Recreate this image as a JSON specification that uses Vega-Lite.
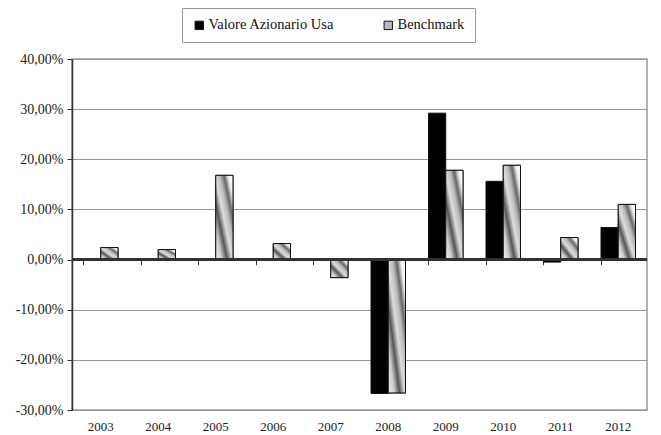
{
  "$schema": "https://vega.github.io/schema/vega-lite/v6.json",
  "width": 575,
  "height": 351,
  "autosize": {"type": "none"},
  "padding": {"left": 72, "top": 59, "right": 14, "bottom": 25},
  "background": "white",
  "config": {
    "locale": {"number": {"decimal": ",", "thousands": ".", "grouping": [3], "currency": ["", " €"], "minus": "-"}},
    "view": {"stroke": "#999", "strokeWidth": 1.5},
    "font": "Times New Roman, Liberation Serif, serif",
    "axis": {"labelFont": "Times New Roman, Liberation Serif, serif", "labelFontSize": 13, "labelColor": "#222"},
    "legend": {"labelFont": "Times New Roman, Liberation Serif, serif"}
  },
  "data": {
    "values": [
      {"year": "2003", "serie": "Benchmark", "value": 0.024},
      {"year": "2004", "serie": "Benchmark", "value": 0.020},
      {"year": "2005", "serie": "Benchmark", "value": 0.168},
      {"year": "2006", "serie": "Benchmark", "value": 0.032},
      {"year": "2007", "serie": "Benchmark", "value": -0.036},
      {"year": "2008", "serie": "Valore Azionario Usa", "value": -0.267},
      {"year": "2008", "serie": "Benchmark", "value": -0.266},
      {"year": "2009", "serie": "Valore Azionario Usa", "value": 0.292},
      {"year": "2009", "serie": "Benchmark", "value": 0.178},
      {"year": "2010", "serie": "Valore Azionario Usa", "value": 0.156},
      {"year": "2010", "serie": "Benchmark", "value": 0.188},
      {"year": "2011", "serie": "Valore Azionario Usa", "value": -0.005},
      {"year": "2011", "serie": "Benchmark", "value": 0.044},
      {"year": "2012", "serie": "Valore Azionario Usa", "value": 0.064},
      {"year": "2012", "serie": "Benchmark", "value": 0.110}
    ]
  },
  "resolve": {"axis": {"x": "independent"}},
  "layer": [
    {
      "mark": {"type": "bar", "stroke": "#111", "strokeWidth": 1},
      "encoding": {
        "x": {
          "field": "year", "type": "ordinal",
          "scale": {"paddingInner": 0.4, "paddingOuter": 0.2},
          "axis": {"orient": "bottom", "title": null, "labelAngle": 0, "ticks": false, "domain": false, "labelPadding": 10}
        },
        "xOffset": {"field": "serie", "type": "nominal", "scale": {"domain": ["Valore Azionario Usa", "Benchmark"]}},
        "y": {
          "field": "value", "type": "quantitative",
          "scale": {"domain": [-0.3, 0.4], "nice": false},
          "axis": {"title": null, "format": ".2%", "values": [-0.3, -0.2, -0.1, 0, 0.1, 0.2, 0.3, 0.4], "domainColor": "#333", "domainWidth": 1.5, "tickColor": "#333", "tickSize": 5, "gridColor": "#999", "gridWidth": 1.2, "labelPadding": 4, "labelFontSize": 14}
        },
        "fill": {
          "field": "serie", "type": "nominal",
          "scale": {"domain": ["Valore Azionario Usa", "Benchmark"], "range": ["#000000", "#bbbbbb"]},
          "legend": {
            "title": null, "orient": "none", "legendX": 110, "legendY": -51, "direction": "horizontal",
            "strokeColor": "#999", "fillColor": "white", "padding": 10, "columnPadding": 46,
            "symbolType": "square", "symbolSize": 70, "symbolStrokeColor": "#111", "symbolStrokeWidth": 1,
            "labelFontSize": 14.5, "labelColor": "#111", "labelOffset": 2
          }
        }
      }
    },
    {
      "transform": [{"filter": "datum.serie === 'Benchmark'"}],
      "mark": {
        "type": "bar", "stroke": "#111", "strokeWidth": 1,
        "fill": {"gradient": "linear", "x1": 0, "y1": 1, "x2": 1, "y2": 0, "stops": [
          {"offset": 0, "color": "#f2f2f2"},
          {"offset": 0.18, "color": "#cccccc"},
          {"offset": 0.33, "color": "#555555"},
          {"offset": 0.48, "color": "#dddddd"},
          {"offset": 0.62, "color": "#bbbbbb"},
          {"offset": 0.74, "color": "#666666"},
          {"offset": 0.86, "color": "#eeeeee"},
          {"offset": 1, "color": "#ffffff"}
        ]}
      },
      "encoding": {
        "x": {"field": "year", "type": "ordinal", "axis": null},
        "xOffset": {"field": "serie", "type": "nominal"},
        "y": {"field": "value", "type": "quantitative"}
      }
    },
    {
      "mark": {"type": "rule", "color": "#333", "strokeWidth": 1.5},
      "encoding": {"y": {"datum": 0}}
    },
    {
      "mark": {"type": "point", "opacity": 0},
      "encoding": {
        "x": {
          "field": "year", "type": "ordinal",
          "axis": {"orient": "bottom", "title": null, "labels": false, "domain": false, "ticks": true, "bandPosition": 0, "tickSize": 5, "tickColor": "#333", "offset": -150.4}
        },
        "y": {"datum": 0}
      }
    }
  ]
}
